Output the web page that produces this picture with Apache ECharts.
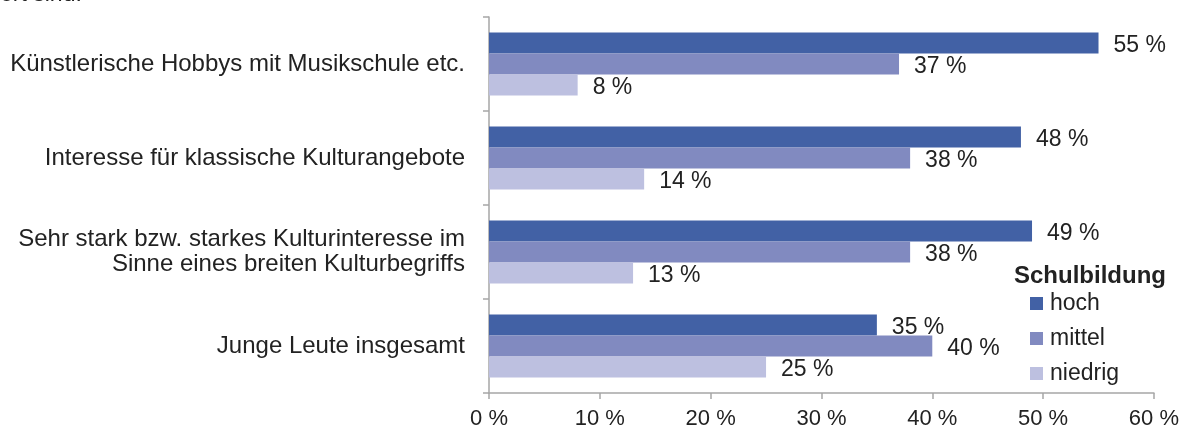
<!DOCTYPE html>
<html>
<head>
<meta charset="utf-8">
<script src="https://cdn.jsdelivr.net/npm/echarts@6/dist/echarts.min.js"></script>
<style>
  html, body { margin: 0; padding: 0; background: #fff; }
  #main { width: 1182px; height: 432px; }
</style>
</head>
<body>
<div id="main"></div>
<script>
var categories = [
    'Künstlerische Hobbys mit Musikschule etc.',
    'Interesse für klassische Kulturangebote',
    'Sehr stark bzw. starkes Kulturinteresse im\nSinne eines breiten Kulturbegriffs',
    'Junge Leute insgesamt'
];
var hoch = [55, 48, 49, 35];
var mittel = [37, 38, 38, 40];
var niedrig = [8, 14, 13, 25];

var chart = echarts.init(document.getElementById('main'));

var font = 'Liberation Sans, Arial, sans-serif';
var textColor = '#222222';

function barSeries(name, data, color) {
    return {
        name: name,
        type: 'bar',
        data: data,
        barGap: 0,
        barCategoryGap: '33%',
        itemStyle: { color: color },
        label: {
            show: true,
            position: 'right',
            distance: 15,
            offset: [0, 3],
            formatter: '{c} %',
            color: textColor,
            fontSize: 23,
            fontFamily: font
        }
    };
}

var option = {
    animation: false,
    textStyle: { fontFamily: font },
    title: [{
        text: 'ert sind.',
        left: 0,
        top: -17,
        padding: 0,
        textStyle: { fontSize: 23, fontWeight: 'normal', color: textColor, fontFamily: font }
    }, {
        text: 'Schulbildung',
        left: 1014,
        top: 264,
        padding: 0,
        textStyle: { fontSize: 24, fontWeight: 'bold', color: textColor, fontFamily: font }
    }],
    legend: {
        orient: 'vertical',
        left: 1030,
        top: 292,
        padding: 0,
        itemWidth: 13,
        itemHeight: 13,
        itemGap: 12,
        icon: 'rect',
        textStyle: { fontSize: 23, color: textColor, fontFamily: font, padding: [0, 0, 0, 2] },
        data: ['hoch', 'mittel', 'niedrig']
    },
    grid: {
        left: 489,
        right: 28,
        top: 17,
        bottom: 39,
        containLabel: false
    },
    xAxis: {
        type: 'value',
        min: 0,
        max: 60,
        interval: 10,
        axisLine: { show: true, lineStyle: { color: '#a6a6a6', width: 1.5 } },
        axisTick: { show: true, length: 6, lineStyle: { color: '#a6a6a6', width: 1.5 } },
        splitLine: { show: false },
        axisLabel: {
            formatter: '{value} %',
            fontSize: 22,
            color: textColor,
            margin: 15,
            fontFamily: font
        }
    },
    yAxis: {
        type: 'category',
        inverse: true,
        data: categories,
        axisLine: { show: true, lineStyle: { color: '#a6a6a6', width: 1.5 } },
        axisTick: { show: true, length: 6, lineStyle: { color: '#a6a6a6', width: 1.5 } },
        axisLabel: {
            fontSize: 24,
            color: textColor,
            margin: 24,
            lineHeight: 25,
            align: 'right',
            fontFamily: font
        }
    },
    series: [
        barSeries('hoch', hoch, '#4261a5'),
        barSeries('mittel', mittel, '#818ac0'),
        barSeries('niedrig', niedrig, '#bdc0e0')
    ]
};

chart.setOption(option);
</script>
</body>
</html>
